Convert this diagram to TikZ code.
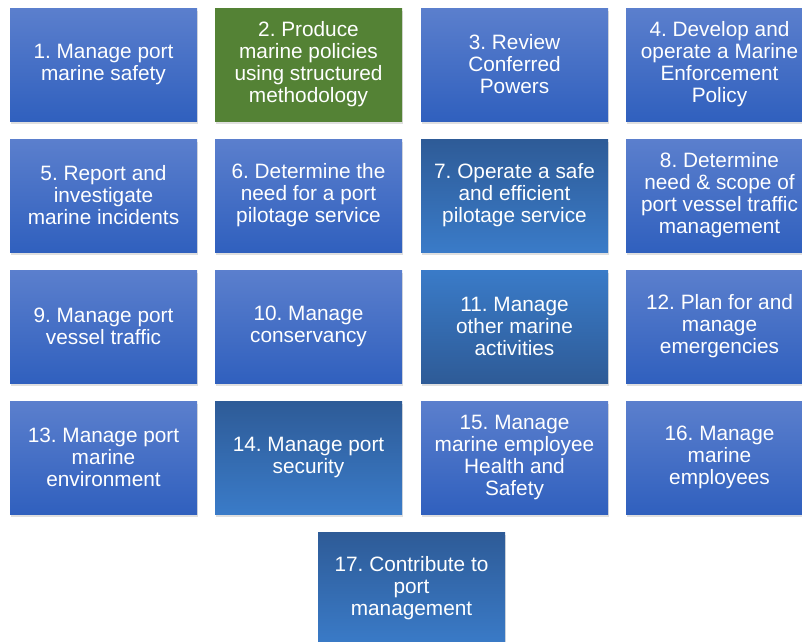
\documentclass[tikz,border=0pt]{standalone}
\usepackage{fontspec}
\setmainfont{Liberation Sans}
\frenchspacing
\usetikzlibrary{positioning,shadows,calc}
\definecolor{bluetop}{HTML}{5B7FCD}
\definecolor{bluebot}{HTML}{3060BE}
\definecolor{greenbox}{HTML}{548235}
\definecolor{darktop}{HTML}{2E5B97}
\definecolor{darkbot}{HTML}{3A7BC8}

\begin{document}
\begin{tikzpicture}[node distance=18pt, auto]
\tikzset{
	    mynode/.style={rectangle, align=center, text=white, font=\fontsize{20.8}{22}\selectfont, inner sep=0pt, outer sep=0pt, minimum width=187pt, minimum height=113pt, top color=bluetop, bottom color=bluebot, drop shadow={opacity=0.25, shadow xshift=1pt, shadow yshift=-2.5pt}},
	    mygreen/.style={mynode, top color=greenbox, bottom color=greenbox},
	    mydark/.style={mynode, top color=darktop, bottom color=darkbot},
	    mydarkup/.style={mynode, top color=darkbot, bottom color=darktop}
	}
	\useasboundingbox (0,0) rectangle (802pt,-641pt);
	\node[mynode, anchor=north west] (safety) at (10pt,-8pt) {1. Manage port\\marine safety};
	\node[mygreen, right=of safety] (policies) {2. Produce\\marine policies\\using structured\\methodology};
	\node[mynode, right=19pt of policies] (powers) {3. Review\\Conferred\\Powers};
	\node[mynode, right=of powers] (enforcement) {4. Develop and\\operate a Marine\\Enforcement\\Policy};

	\node[mynode, below=of safety] (incidents) {5. Report and\\investigate\\marine incidents};
	\node[mynode, below=of policies] (needpilot) {6. Determine the\\need for a port\\pilotage service};
	\node[mydark, below=of powers] (pilotage) {7. Operate a safe\\and efficient\\pilotage service};
	\node[mynode, below=of enforcement] (scopevts) {8. Determine\\need \& scope of\\port vessel traffic\\management};

	\node[mynode, below=of incidents] (traffic) {9. Manage port\\vessel traffic};
	\node[mynode, below=of needpilot] (conservancy) {10. Manage\\conservancy};
	\node[mydarkup, below=of pilotage] (activities) {11. Manage\\other marine\\activities};
	\node[mynode, below=of scopevts] (emergencies) {12. Plan for and\\manage\\emergencies};

	\node[mynode, below=of traffic] (environment) {13. Manage port\\marine\\environment};
	\node[mydark, below=of conservancy] (security) {14. Manage port\\security};
	\node[mynode, below=of activities] (health) {15. Manage\\marine employee\\Health and\\Safety};
	\node[mynode, below=of emergencies] (employees) {16. Manage\\marine\\employees};

	\node[mydark, anchor=north] (portmgmt) at ($(security.south east)!0.5!(health.south west)+(0,-18pt)$) {17. Contribute to\\port\\management};

\end{tikzpicture}
\end{document}
